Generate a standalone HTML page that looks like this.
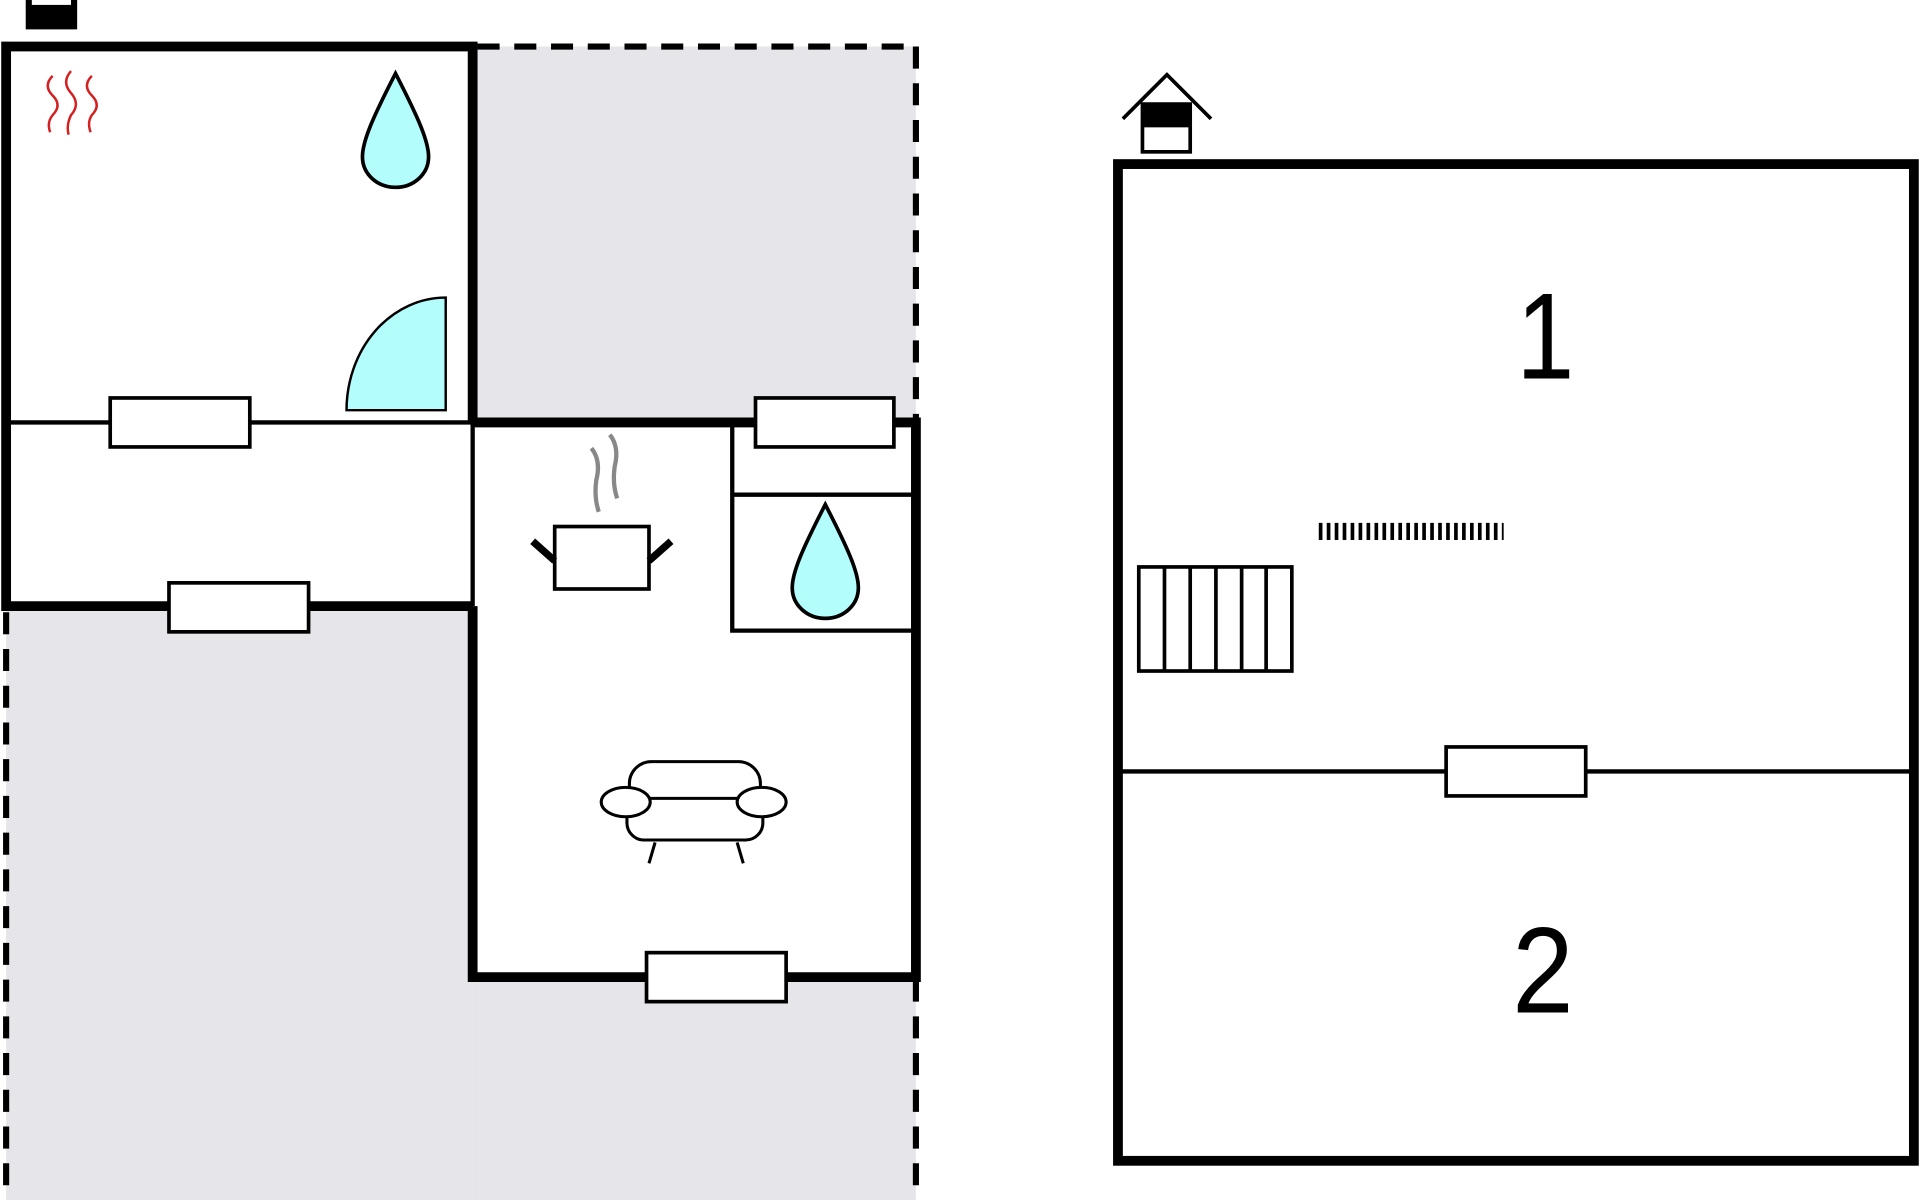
<!DOCTYPE html>
<html><head><meta charset="utf-8"><style>html,body{margin:0;padding:0;background:#fff}svg{display:block}</style></head>
<body>
<svg width="1920" height="1200" viewBox="0 0 1568 980" xmlns="http://www.w3.org/2000/svg">
<rect width="1568" height="980" fill="#fff"/>
<rect x="386" y="38" width="362" height="307" fill="#e6e6ea"/>
<rect x="5" y="495" width="381" height="485" fill="#e6e6ea"/>
<rect x="386" y="798" width="362" height="182" fill="#e6e6ea"/>
<g stroke="#000" stroke-width="5" stroke-dasharray="18,12" fill="none">
<line x1="390" y1="38" x2="748" y2="38"/>
<line x1="748" y1="38" x2="748" y2="345"/>
<line x1="748" y1="800" x2="748" y2="980"/>
<line x1="5" y1="500" x2="5" y2="980"/>
</g>
<g stroke="#000" stroke-width="8" fill="none">
<polyline points="386,345 386,38 5,38 5,495 386,495"/>
<polyline points="386,345 748,345 748,798 386,798 386,495"/>
<rect x="913" y="134" width="650" height="814"/>
</g>
<g stroke="#000" stroke-width="3.5" fill="none">
<line x1="5" y1="345" x2="386" y2="345"/>
<line x1="386" y1="345" x2="386" y2="495"/>
<polyline points="598,345 598,515 745,515"/>
<line x1="598" y1="404" x2="745" y2="404"/>
<line x1="913" y1="630" x2="1563" y2="630"/>
</g>
<g stroke="#000" stroke-width="3" fill="#fff">
<rect x="90" y="325" width="114" height="40"/>
<rect x="138" y="476" width="114" height="40"/>
<rect x="617" y="325" width="113" height="40"/>
<rect x="528" y="778" width="114" height="40"/>
<rect x="1181" y="610" width="114" height="40"/>
</g>
<rect x="21" y="-2" width="42" height="26" fill="#000"/>
<rect x="26" y="-2" width="32" height="6" fill="#fff"/>
<g stroke="#d42020" stroke-width="2" fill="none">
<path d="M43,62 q-8,8 0,16 q8,8 0,16 q-5,6 -2,14"/>
<path d="M58,58 q-8,9 0,18 q8,9 0,18 q-4,8 -2,16"/>
<path d="M75,62 q-8,8 0,16 q8,8 0,16 q-4,6 -1,14"/>
</g>
<g stroke="#000" stroke-width="3" fill="#b3fdfd">
<path d="M323,60 C305,95 296,115 296,128 C296,142 308,153 323,153 C338,153 350,142 350,128 C350,115 341,95 323,60 Z"/>
<path d="M674,412 C656,447 647,467 647,480 C647,494 659,505 674,505 C689,505 701,494 701,480 C701,467 692,447 674,412 Z"/>
</g>
<path d="M283,335 A81,92 0 0 1 364,243 L364,335 Z" fill="#b3fdfd" stroke="#000" stroke-width="2"/>
<g stroke="#888" stroke-width="3.5" fill="none">
<path d="M483,366 q8,10 4,26 q-2,14 2,26"/>
<path d="M498,355 q8,10 4,26 q-2,14 2,26"/>
</g>
<rect x="453" y="430" width="77" height="51" fill="#fff" stroke="#000" stroke-width="3"/>
<g stroke="#000" stroke-width="6"><line x1="435" y1="442" x2="453" y2="458"/><line x1="548" y1="442" x2="530" y2="458"/></g>
<g stroke="#000" stroke-width="2.5" fill="#fff">
<rect x="514" y="622" width="107" height="40" rx="18"/>
<rect x="512" y="652" width="111" height="34" rx="14"/>
<ellipse cx="511" cy="655" rx="20" ry="12"/>
<ellipse cx="622" cy="655" rx="20" ry="12"/>
<line x1="535" y1="688" x2="530" y2="705"/>
<line x1="602" y1="688" x2="607" y2="705"/>
</g>
<g stroke="#000" stroke-width="3" fill="none">
<polyline points="917,97 953,61 989,97"/>
<rect x="933" y="85" width="39" height="39" fill="#fff"/>
</g>
<rect x="933" y="85" width="39" height="19" fill="#000"/>
<g stroke="#000" stroke-width="3" fill="none">
<rect x="930" y="463" width="125" height="85"/>
<line x1="951" y1="463" x2="951" y2="548"/>
<line x1="972" y1="463" x2="972" y2="548"/>
<line x1="993" y1="463" x2="993" y2="548"/>
<line x1="1014" y1="463" x2="1014" y2="548"/>
<line x1="1034" y1="463" x2="1034" y2="548"/>
</g>
<line x1="1077" y1="434" x2="1228" y2="434" stroke="#000" stroke-width="14" stroke-dasharray="3,3.5"/>
<text transform="translate(1262,309) scale(0.85,1)" font-family="Liberation Sans, sans-serif" font-size="100" text-anchor="middle">1</text>
<text transform="translate(1260,827) scale(0.9,1)" font-family="Liberation Sans, sans-serif" font-size="100" text-anchor="middle">2</text>
</svg>
</body></html>
